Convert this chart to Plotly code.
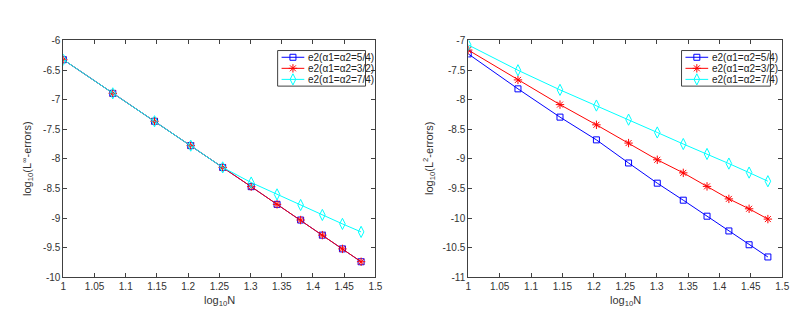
import plotly.graph_objects as go

x_vals = [1.0, 1.0792, 1.1461, 1.2041, 1.2553, 1.3010, 1.3424, 1.3802, 1.4150, 1.4472, 1.4771]

# Left panel: log10(L^inf errors)
linf_54 = [-6.325, -6.893, -7.364, -7.775, -8.143, -8.468, -8.766, -9.031, -9.286, -9.518, -9.735]
linf_32 = [-6.325, -6.893, -7.364, -7.775, -8.143, -8.468, -8.766, -9.031, -9.286, -9.518, -9.735]
linf_74 = [-6.325, -6.893, -7.364, -7.775, -8.143, -8.398, -8.598, -8.777, -8.945, -9.096, -9.231]

# Right panel: log10(L^2 errors)
l2_54 = [-7.227, -7.817, -8.294, -8.678, -9.068, -9.409, -9.696, -9.966, -10.215, -10.448, -10.654]
l2_32 = [-7.162, -7.666, -8.083, -8.424, -8.732, -9.014, -9.235, -9.463, -9.674, -9.841, -10.015]
l2_74 = [-7.076, -7.503, -7.834, -8.099, -8.337, -8.553, -8.748, -8.916, -9.078, -9.230, -9.376]

names = ["e2(α1=α2=5/4)", "e2(α1=α2=3/2)", "e2(α1=α2=7/4)"]
colors = ["#0000FF", "#FF0000", "#00FFFF"]
symbols = ["square-open", "asterisk-open", "diamond-tall-open"]
sizes = [6, 7, 8]

x_ticks = [1, 1.05, 1.1, 1.15, 1.2, 1.25, 1.3, 1.35, 1.4, 1.45, 1.5]
x_ticklabels = ["1", "1.05", "1.1", "1.15", "1.2", "1.25", "1.3", "1.35", "1.4", "1.45", "1.5"]
y1_ticks = [-6, -6.5, -7, -7.5, -8, -8.5, -9, -9.5, -10]
y2_ticks = [-7, -7.5, -8, -8.5, -9, -9.5, -10, -10.5, -11]

W, H = 802, 312
def fx(p): return p / W
def fy(p): return 1 - p / H

fig = go.Figure()
left = [linf_54, linf_32, linf_74]
right = [l2_54, l2_32, l2_74]
for i in range(3):
    fig.add_trace(go.Scatter(x=x_vals, y=left[i], mode="lines+markers", name=names[i],
                             line=dict(color=colors[i], width=1),
                             marker=dict(symbol=symbols[i], size=sizes[i], color=colors[i], line=dict(width=1)),
                             xaxis="x", yaxis="y", showlegend=False))
for i in range(3):
    fig.add_trace(go.Scatter(x=x_vals, y=right[i], mode="lines+markers", name=names[i],
                             line=dict(color=colors[i], width=1),
                             marker=dict(symbol=symbols[i], size=sizes[i], color=colors[i], line=dict(width=1)),
                             xaxis="x2", yaxis="y2", showlegend=False))

# Custom legend samples drawn in a pixel-space helper axis
legend_boxes = [(270, 38, 359, 75), (679, 38, 769, 75)]
rows_off = [7, 18.5, 30]
for i in range(3):
    lx, ly, mx, my = [], [], [], []
    for (x0, y0, x1, y1) in legend_boxes:
        r = y0 + rows_off[i]
        lx += [x0 + 4, x0 + 27, None]
        ly += [r, r, None]
        mx.append(x0 + 15.5)
        my.append(r)
    fig.add_trace(go.Scatter(x=lx, y=ly, mode="lines", line=dict(color=colors[i], width=1),
                             xaxis="x3", yaxis="y3", showlegend=False, hoverinfo="skip"))
    fig.add_trace(go.Scatter(x=mx, y=my, mode="markers",
                             marker=dict(symbol=symbols[i], size=sizes[i], color=colors[i], line=dict(width=1)),
                             xaxis="x3", yaxis="y3", showlegend=False, hoverinfo="skip"))

axis_common = dict(showgrid=False, zeroline=False, showline=True, linecolor="#404040", linewidth=1,
                   mirror="ticks", ticks="inside", ticklen=4, tickcolor="#404040",
                   tickfont=dict(family="Liberation Sans, Arial", size=10, color="#333333"))

fig.update_layout(
    width=W, height=H, margin=dict(l=0, r=0, t=0, b=0),
    paper_bgcolor="white", plot_bgcolor="rgba(0,0,0,0)",
    showlegend=False,
    xaxis=dict(domain=[fx(53), fx(369)], range=[1, 1.5], tickvals=x_ticks, ticktext=x_ticklabels,
               anchor="y", **axis_common),
    yaxis=dict(domain=[fy(274), fy(27.5)], range=[-10, -6], tickvals=y1_ticks,
               ticktext=[str(v) for v in y1_ticks], anchor="x", **axis_common),
    xaxis2=dict(domain=[fx(463), fx(781)], range=[1, 1.5], tickvals=x_ticks, ticktext=x_ticklabels,
                anchor="y2", **axis_common),
    yaxis2=dict(domain=[fy(274), fy(27.5)], range=[-11, -7], tickvals=y2_ticks,
                ticktext=[str(v) for v in y2_ticks], anchor="x2", **axis_common),
    xaxis3=dict(domain=[0, 1], range=[0, W], visible=False, anchor="y3", fixedrange=True),
    yaxis3=dict(domain=[0, 1], range=[H, 0], visible=False, anchor="x3", fixedrange=True),
    font=dict(family="Liberation Sans, Arial", size=10, color="#333333"),
)

# Legend boxes and texts
for (x0, y0, x1, y1) in legend_boxes:
    fig.add_shape(type="rect", xref="paper", yref="paper", x0=fx(x0), x1=fx(x1), y0=fy(y1), y1=fy(y0),
                  line=dict(color="#404040", width=1), fillcolor="white", layer="below")
    for i in range(3):
        fig.add_annotation(x=fx(x0 + 29), y=fy(y0 + rows_off[i]), xref="paper", yref="paper", showarrow=False,
                           xanchor="left", yanchor="middle", text=names[i],
                           font=dict(size=10, color="#222222"))

# Axis titles
for cx in (211, 622):
    fig.add_annotation(x=fx(cx), y=fy(298), xref="paper", yref="paper", showarrow=False,
                       xanchor="center", yanchor="middle",
                       text="log<sub>10</sub>N", font=dict(size=11, color="#333333"))
fig.add_annotation(x=fx(17), y=fy(150), xref="paper", yref="paper", showarrow=False, textangle=-90,
                   xanchor="center", yanchor="middle",
                   text="log<sub>10</sub>(L<sup>∞</sup>-errors)", font=dict(size=11, color="#333333"))
fig.add_annotation(x=fx(424), y=fy(150), xref="paper", yref="paper", showarrow=False, textangle=-90,
                   xanchor="center", yanchor="middle",
                   text="log<sub>10</sub>(L<sup>2</sup>-errors)", font=dict(size=11, color="#333333"))

fig.write_html("out.html")
